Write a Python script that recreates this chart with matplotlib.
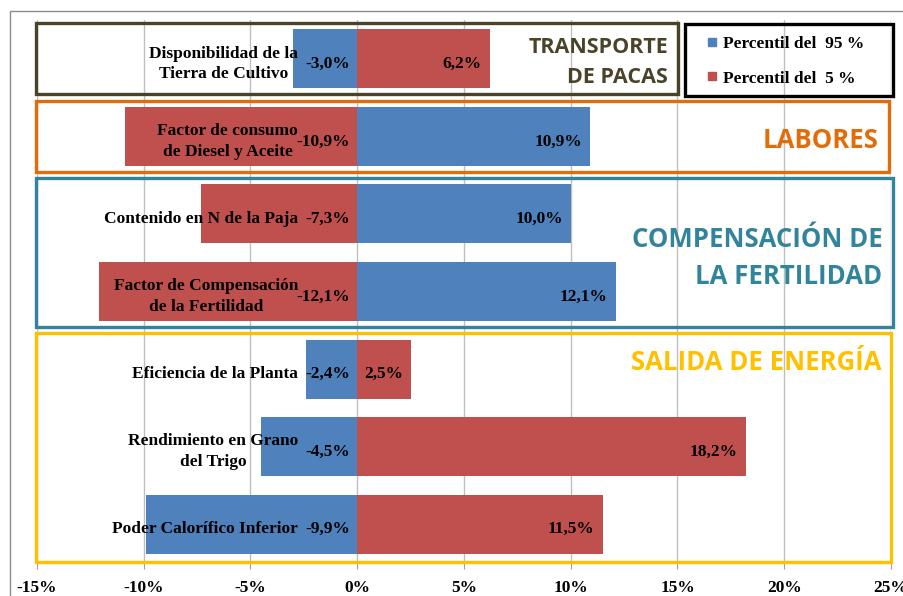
import matplotlib
matplotlib.use("Agg")
import matplotlib.pyplot as plt
from matplotlib.patches import Rectangle
from matplotlib.lines import Line2D
from matplotlib.ticker import FuncFormatter
import matplotlib.transforms as mtransforms

# Sensitivity factors (top to bottom)
categories = [
    "Disponibilidad de la\nTierra de Cultivo",
    "Factor de consumo\nde Diesel y Aceite",
    "Contenido en N de la Paja",
    "Factor de Compensación\nde la Fertilidad",
    "Eficiencia de la Planta",
    "Rendimiento en Grano\ndel Trigo",
    "Poder Calorífico Inferior",
]
p95 = [-3.0, 10.9, 10.0, 12.1, -2.4, -4.5, -9.9]
p5 = [6.2, -10.9, -7.3, -12.1, 2.5, 18.2, 11.5]
series_names = ["Percentil del  95 %", "Percentil del  5 %"]
xticks = [-15, -10, -5, 0, 5, 10, 15, 20, 25]

# Factor groups: (title, first row, last row, right edge in %, colour)
groups = [
    ("TRANSPORTE\nDE PACAS", 0, 0, 15.0, "#494429"),
    ("LABORES", 1, 1, 24.9, "#E36C0A"),
    ("COMPENSACIÓN DE\nLA FERTILIDAD", 2, 3, 25.1, "#31849B"),
    ("SALIDA DE ENERGÍA", 4, 6, 25.0, "#FFC000"),
]

BLUE = "#4F81BD"
RED = "#C0504D"
SERIF = "Liberation Serif"
SANS = "Open Sans"
FS = 12.5

W, H = 904, 596
fig = plt.figure(figsize=(W / 100, H / 100), dpi=100)
ax = fig.add_axes([37 / W, 1 - 563 / H, (891 - 37) / W, (563 - 20) / H])

y = list(range(len(categories)))
ax.barh(y, p95, height=0.76, color=BLUE, zorder=2)
ax.barh(y, p5, height=0.76, color=RED, zorder=2)

ax.set_xlim(-15, 25)
ax.set_ylim(len(categories) - 0.5, -0.5)
ax.set_xticks(xticks)
ax.xaxis.set_major_formatter(FuncFormatter(lambda v, _: f"{v:.0f}%"))
ax.set_yticks([])
ax.grid(axis="x", color="#BFBFBF", linewidth=1.0, zorder=0)
for s in ("left", "right", "top"):
    ax.spines[s].set_visible(False)
ax.spines["bottom"].set_color("#A0A0A0")
ax.tick_params(axis="x", length=4, color="#A0A0A0", pad=8)
for lab in ax.get_xticklabels():
    lab.set_fontfamily(SERIF)
    lab.set_fontweight("bold")
    lab.set_fontsize(FS)

def fmt(v):
    return f"{v:.1f}%".replace(".", ",")

zero_off = mtransforms.offset_copy(ax.transData, fig=fig, x=-7 / 100 * 72, y=0, units="points")
end_off = mtransforms.offset_copy(ax.transData, fig=fig, x=-8 / 100 * 72, y=0, units="points")
cat_off = mtransforms.offset_copy(ax.transData, fig=fig, x=-59 / 100 * 72, y=0, units="points")

DY = 0.065
for i, cat in enumerate(categories):
    ax.text(0, i + DY, cat, transform=cat_off, ha="right", va="center",
            multialignment="center", family=SERIF, weight="bold", fontsize=FS,
            zorder=4, linespacing=1.37)
    neg = min(p95[i], p5[i])
    pos = max(p95[i], p5[i])
    ax.text(0, i + DY, fmt(neg), transform=zero_off, ha="right", va="center",
            family=SERIF, weight="bold", fontsize=FS, zorder=4)
    if pos < 4:
        ax.text(pos / 2, i + DY, fmt(pos), ha="center", va="center",
                family=SERIF, weight="bold", fontsize=FS, zorder=4)
    else:
        ax.text(pos, i + DY, fmt(pos), transform=end_off, ha="right", va="center",
                family=SERIF, weight="bold", fontsize=FS, zorder=4)

# Group frames and titles
for title, r0, r1, xr, col in groups:
    top = r0 - 0.46
    bot = r1 + 0.46 if r1 < 6 else r1 + 0.49
    ax.add_patch(Rectangle((-15.05, top), xr + 15.05, bot - top, fill=False,
                           edgecolor=col, linewidth=2.4, clip_on=False, zorder=3))

# (x, y, font size, line spacing) of each group title
title_style = [(14.55, 0.05, 15.5, 1.6), (24.4, 1.05, 18.5, 1.2),
               (24.6, 2.57, 18.5, 1.5), (24.55, 3.92, 18.5, 1.2)]
for (title, r0, r1, xr, col), (tx, ty, fs, ls) in zip(groups, title_style):
    ax.text(tx, ty, title, ha="right", va="center", multialignment="right",
            family=SANS, weight="bold", fontsize=fs, color=col, zorder=4,
            linespacing=ls)

# Legend frame
ax.add_patch(Rectangle((15.35, -0.45), 25.1 - 15.35, 0.93, fill=False,
                       edgecolor="black", linewidth=2.4, clip_on=False, zorder=3))
handles = [Line2D([], [], marker="s", linestyle="none", markersize=5.5,
                  markerfacecolor=c, markeredgecolor=c) for c in (BLUE, RED)]
leg = ax.legend(handles, series_names, loc="upper left",
                bbox_to_anchor=(707 / W, 1 - 36 / H), bbox_transform=fig.transFigure,
                frameon=False, handlelength=0.6, handletextpad=0.35,
                labelspacing=1.05, borderpad=0, borderaxespad=0,
                prop={"family": SERIF, "weight": "bold", "size": FS})

# Outer chart border
fig.add_artist(Rectangle((9.5 / W, -0.05), 1.0, 1 - 10.7 / H + 0.05, fill=False,
                         edgecolor="#8C8C8C", linewidth=1.0,
                         transform=fig.transFigure))

fig.savefig("out.png", dpi=100)
